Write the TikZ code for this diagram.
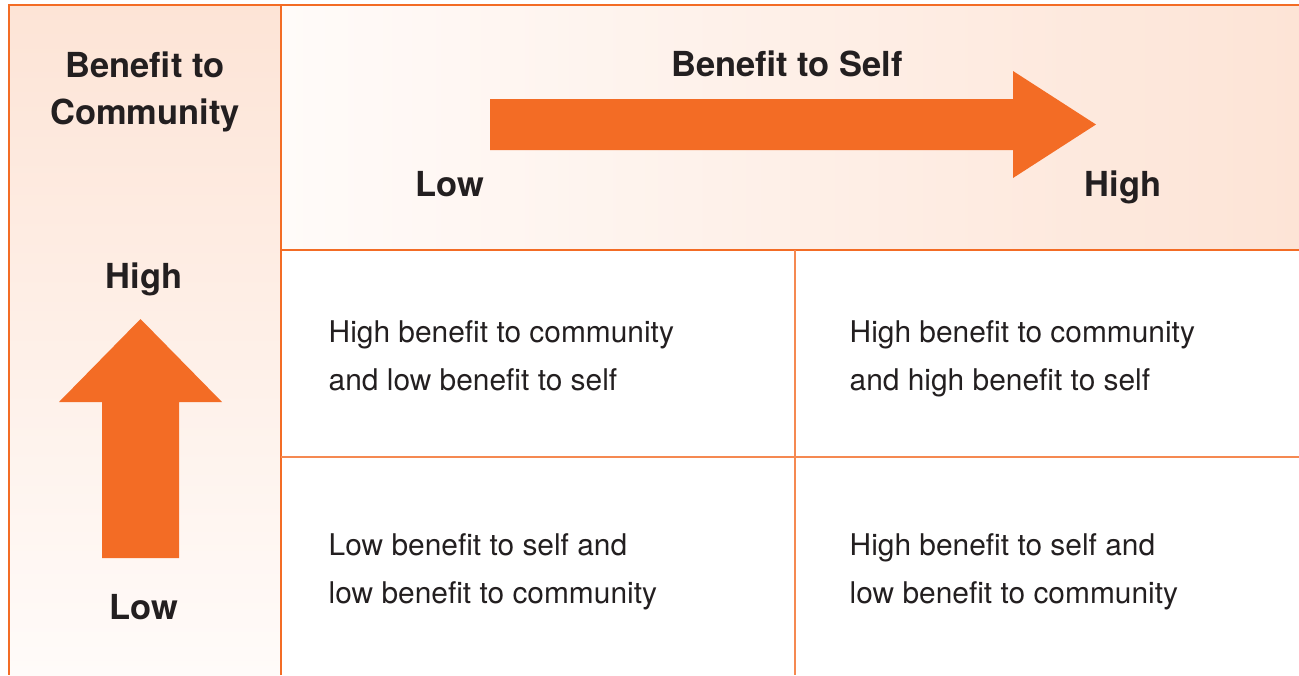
\documentclass[tikz,border=0pt]{standalone}
\usepackage{fontspec}
\setmainfont{TeX Gyre Heros}
\definecolor{brandorange}{HTML}{F36C25}
\definecolor{peach}{HTML}{FDE4D6}
\definecolor{paleback}{HTML}{FFFBF9}
\definecolor{inktext}{HTML}{231F20}
\tikzset{
  axislabel/.style={font=\fontsize{9.8}{13.3}\selectfont\bfseries, text=inktext, inner sep=0pt, align=center, anchor=base},
  celltext/.style={font=\fontsize{8.5}{13.6}\selectfont, text=inktext, inner sep=0pt, align=left, anchor=base west},
  frameline/.style={draw=brandorange, line width=0.45pt},
  gridline/.style={draw=brandorange!80, line width=0.4pt}
}
\begin{document}
\begin{tikzpicture}[x=0.01cm,y=-0.01cm]
   \useasboundingbox (0,0) rectangle (1299,675);

   % Shaded bands
   \shade [top color=peach, bottom color=paleback] (9,5) rectangle (281,675);
   \shade [left color=paleback, right color=peach] (281,5) rectangle (1299,250);

   % Frame and grid
   \draw [frameline] (9,675) -- (9,5) -- (1299,5);
   \draw [frameline] (281,5) -- (281,675);
   \draw [frameline] (281,250) -- (1299,250);
   \draw [gridline] (795,250) -- (795,675);
   \draw [gridline] (281,457) -- (1299,457);

   % Big arrows
   \fill [brandorange] (490,99) -- (1013,99) -- (1013,71) -- (1096,124.5)
     -- (1013,178) -- (1013,150) -- (490,150) -- cycle;
   \fill [brandorange] (102,558) -- (102,402) -- (59,402) -- (140.5,319)
     -- (222,402) -- (179,402) -- (179,558) -- cycle;

   % Axis labels (base = last line)
   \node [axislabel] (community) at (145,124) {Benefit to\\Community};
   \node [axislabel] (commhigh) at (144,288) {High};
   \node [axislabel] (commlow) at (144,619) {Low};
   \node [axislabel] (self) at (787,76) {Benefit to Self};
   \node [axislabel] (selflow) at (450,196) {Low};
   \node [axislabel] (selfhigh) at (1123,196) {High};

   % Quadrants
   \node [celltext] (highlow) at (328,390) {High benefit to community\\and low benefit to self};
   \node [celltext] (highhigh) at (849,390) {High benefit to community\\and high benefit to self};
   \node [celltext] (lowlow) at (328,603) {Low benefit to self and\\low benefit to community};
   \node [celltext] (lowhigh) at (849,603) {High benefit to self and\\low benefit to community};
\end{tikzpicture}
\end{document}
